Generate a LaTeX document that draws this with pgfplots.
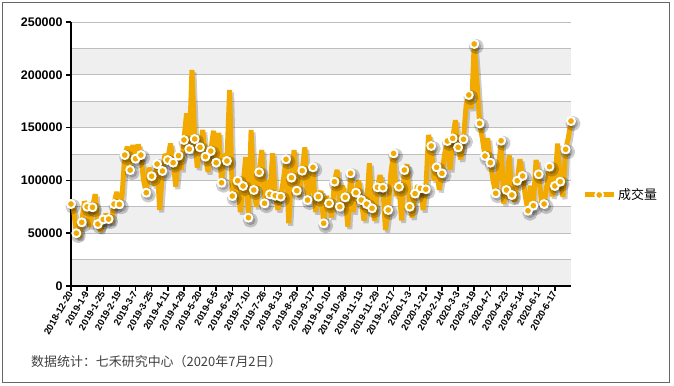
\documentclass[border=0pt]{standalone}
\usepackage{fontspec}
\setmainfont{Liberation Sans}
\newfontfamily\cjk{Noto Sans CJK SC}
\usepackage{pgfplots}
\pgfplotsset{compat=1.18}
\usepackage{pgfplotstable}
\definecolor{orng}{RGB}{242,169,0}
\definecolor{band}{RGB}{239,239,239}
\definecolor{gridc}{RGB}{190,190,190}

\pgfplotstableread{
x y
0 77650
2 72000
4 50000
6 46000
8 60300
10 80000
12 75000
14 56000
16 74500
18 87000
20 58700
22 52000
24 63000
26 68000
28 63400
30 60000
32 77600
34 89000
36 77300
38 85000
40 124000
42 132000
44 109800
46 133500
48 120500
50 134000
52 124000
54 100000
56 88400
58 112000
60 104000
62 95000
64 115500
66 72000
68 108900
70 125000
72 119300
74 135000
76 116800
78 94000
80 123400
82 110000
84 138300
86 163500
88 129700
90 204500
92 139200
94 112000
96 131300
98 147700
100 122500
102 108000
104 127800
106 147000
108 116800
110 145000
112 97800
114 125000
116 118400
118 185600
120 85200
122 95000
124 99700
126 70000
128 94700
130 122000
132 64700
134 147700
136 90900
138 75000
140 107700
142 128800
144 78300
146 100000
148 86800
150 125600
152 85500
154 72000
156 84600
158 100000
160 120000
162 59400
164 102600
166 128800
168 90300
170 85000
172 109200
174 131300
176 81400
178 95000
180 112400
182 70000
184 84600
186 90000
188 59400
190 85000
192 78300
194 65000
196 98800
198 110000
200 75100
202 95000
204 84000
206 56200
208 106700
210 70000
212 88400
214 100000
216 81400
218 62000
220 77600
222 116200
224 73600
226 62000
228 93500
230 105000
232 93100
234 53000
236 72000
238 107000
240 125600
242 85000
244 94000
246 62000
248 109800
250 115000
252 75100
254 65000
256 87500
258 95000
260 92500
262 72000
264 91600
266 143000
268 132600
270 100000
272 112400
274 91000
276 106700
278 125000
280 137300
282 110000
284 139800
286 157000
288 131300
290 120000
292 138900
294 171400
296 180900
298 168000
300 229200
302 195000
304 154000
306 140000
308 123100
310 140000
312 116800
314 100000
316 87800
318 110000
320 137600
322 78000
324 90900
326 124000
328 86200
330 80000
332 99700
334 120000
336 104200
338 85000
340 71300
342 95000
344 76100
346 119300
348 105800
350 80000
352 77600
354 95000
356 113000
358 85000
360 94700
362 135000
364 98800
366 84600
368 129400
370 140000
372 156200
}\vol

\begin{document}
\begin{tikzpicture}
\path (0,0) rectangle (674bp,386bp);
\draw[line width=1.5bp, black!60] (2.7bp,3.7bp) rectangle (669.3bp,383.3bp);
\node[anchor=west, font=\cjk\fontsize{13}{15}\selectfont, text=black!75, inner sep=0pt] at (31bp,24bp) {数据统计：七禾研究中心（2020年7月2日）};
\begin{axis}[
  set layers,
  at={(71bp,100bp)}, anchor=south west,
  scale only axis, width=500bp, height=264bp,
  xmin=0, xmax=372, ymin=0, ymax=250000,
  clip=false,
  axis lines=left, axis line style={-, black},
  x axis line style={line width=2.5bp},
  y axis line style={line width=2bp},
  xtick={0,12,...,360},
  xticklabels={2018-12-20,2019-1-9,2019-1-25,2019-2-19,2019-3-7,2019-3-25,2019-4-11,2019-4-29,2019-5-20,2019-6-5,2019-6-24,2019-7-10,2019-7-26,2019-8-13,2019-8-29,2019-9-17,2019-10-10,2019-10-28,2019-11-13,2019-11-29,2019-12-17,2020-1-3,2020-1-21,2020-2-14,2020-3-3,2020-3-19,2020-4-7,2020-4-23,2020-5-14,2020-6-1,2020-6-17},
  x tick label style={rotate=60, anchor=east, font=\bfseries\fontsize{9.5}{11}\selectfont, inner sep=1bp},
  ytick={0,50000,...,250000},
  minor ytick={25000,75000,...,225000},
  y tick label style={font=\bfseries\fontsize{12.5}{14}\selectfont},
  scaled y ticks=false,
  yticklabel style={/pgf/number format/fixed, /pgf/number format/1000 sep={}},
  /pgf/number format/assume math mode=true,
  tick align=outside, major tick length=5bp, minor tick length=0pt,
  tick style={black, line width=1.5bp},
  ymajorgrids, yminorgrids,
  major grid style={gridc, line width=0.8bp},
  minor grid style={gridc, line width=0.8bp},
  legend style={at={(1.022,0.345)}, anchor=west, draw=none, fill=none,
    font=\cjk\fontsize{13}{15}\selectfont, inner sep=0pt,
    /tikz/every even column/.append style={column sep=4bp}},
  legend image code/.code={
    \draw[orng, line width=5bp] (0bp,0bp) -- (29bp,0bp);
    \draw[white, fill=orng, line width=1.9bp] (14.5bp,0bp) circle (4bp);
  },
]
\addplot[forget plot, on layer=axis background, fill=band, draw=none] coordinates {(0,0) (372,0) (372,25000) (0,25000)} -- cycle;
\addplot[forget plot, on layer=axis background, fill=band, draw=none] coordinates {(0,50000) (372,50000) (372,75000) (0,75000)} -- cycle;
\addplot[forget plot, on layer=axis background, fill=band, draw=none] coordinates {(0,100000) (372,100000) (372,125000) (0,125000)} -- cycle;
\addplot[forget plot, on layer=axis background, fill=band, draw=none] coordinates {(0,150000) (372,150000) (372,175000) (0,175000)} -- cycle;
\addplot[forget plot, on layer=axis background, fill=band, draw=none] coordinates {(0,200000) (372,200000) (372,225000) (0,225000)} -- cycle;
\addplot[forget plot, black, opacity=0.2, line width=5bp, line join=bevel,
  xshift=2bp, yshift=-2.5bp, mark=*, mark repeat=2, mark phase=1, mark size=5bp,
  mark options={draw=none, fill=black}] table[x=x,y=y]{\vol};
\addplot[orng, line width=5bp, line join=bevel, mark=*, mark repeat=2, mark phase=1,
  mark size=4bp, mark options={draw=white, fill=orng, line width=1.9bp}]
  table[x=x,y=y]{\vol};
\addlegendentry{成交量}
\end{axis}
\end{tikzpicture}
\end{document}
